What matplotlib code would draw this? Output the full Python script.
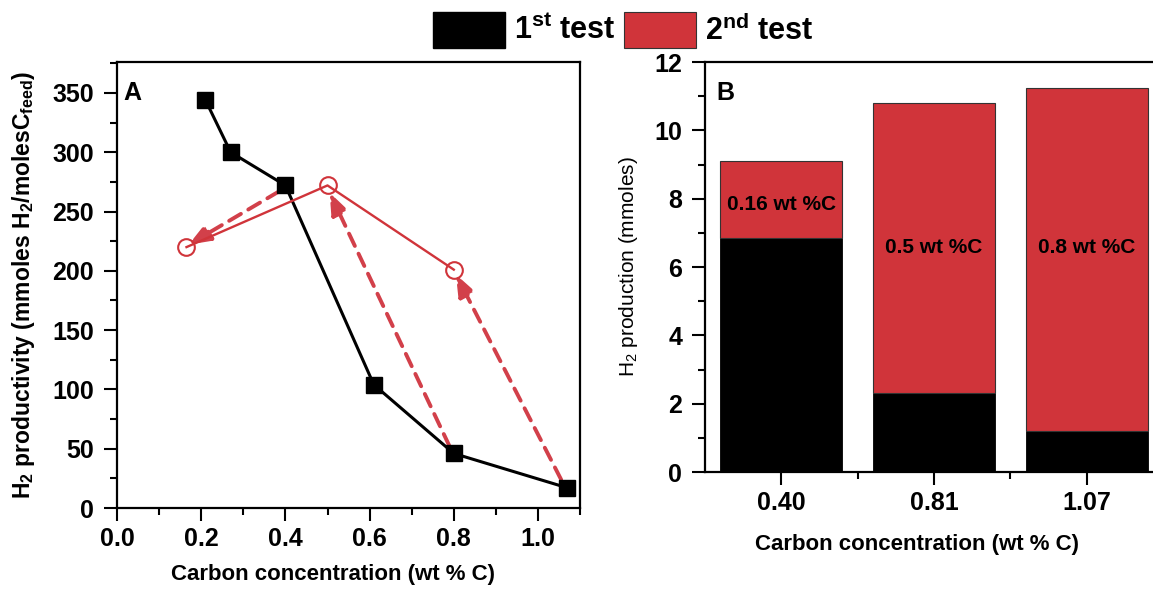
import matplotlib
matplotlib.use("Agg")
import matplotlib.pyplot as plt
from matplotlib.patches import Rectangle
from matplotlib.ticker import MultipleLocator, FixedLocator

plt.rcParams["font.family"] = ["Liberation Sans", "DejaVu Sans"]
plt.rcParams["mathtext.fontset"] = "custom"
plt.rcParams["mathtext.rm"] = "Liberation Sans"
plt.rcParams["mathtext.bf"] = "Liberation Sans:bold"
plt.rcParams["mathtext.it"] = "Liberation Sans:italic"
plt.rcParams["mathtext.default"] = "regular"

RED = "#D0343A"
ARROW_RED = "#D2404A"

# panel A: H2 productivity vs carbon concentration
first_x = [0.21, 0.27, 0.40, 0.61, 0.80, 1.07]
first_y = [344, 300, 272, 104, 46, 17]
second_x = [0.165, 0.50, 0.80]
second_y = [220, 272, 201]
# dashed arrows: from 1st-test point to 2nd-test point
arrow_from = [(0.385, 267), (0.79, 52), (1.055, 24)]
arrow_to = [(0.17, 222), (0.505, 266), (0.805, 197)]

# panel B: stacked H2 production
bar_labels = ["0.40", "0.81", "1.07"]
first_prod = [6.85, 2.30, 1.20]
second_prod = [2.25, 8.50, 10.05]
bar_notes = ["0.16 wt %C", "0.5 wt %C", "0.8 wt %C"]
note_y = [7.82, 6.58, 6.58]

fig = plt.figure(figsize=(11.53, 5.93), dpi=100)

# ---- panel A
axA = fig.add_axes([0.1015, 0.1433, 0.4016, 0.752])
axA.plot(first_x, first_y, color="black", lw=2.2, marker="s", ms=12, zorder=3)
axA.plot(second_x, second_y, color=RED, lw=1.7, marker="o", ms=12,
         mfc="none", mec=RED, mew=1.5, zorder=3)
for (x0, y0), (x1, y1) in zip(arrow_from, arrow_to):
    axA.annotate("", xy=(x1, y1), xytext=(x0, y0),
                 arrowprops=dict(arrowstyle="-|>,head_length=1.3,head_width=0.5",
                                 color=ARROW_RED, lw=2.8, ls=(0, (3.5, 2.2)),
                                 shrinkA=0, shrinkB=0), zorder=2)
axA.set_xlim(0, 1.1)
axA.set_ylim(0, 376)
axA.xaxis.set_major_locator(MultipleLocator(0.2))
axA.xaxis.set_minor_locator(MultipleLocator(0.1))
axA.yaxis.set_major_locator(MultipleLocator(50))
axA.yaxis.set_minor_locator(MultipleLocator(25))
axA.xaxis.set_major_formatter(plt.FuncFormatter(lambda v, p: f"{v:.1f}"))
axA.text(0.013, 0.93, "A", transform=axA.transAxes, fontsize=18, fontweight="bold",
         ha="left", va="center")
axA.set_xlabel("Carbon concentration (wt % C)", fontsize=16, fontweight="bold")
axA.xaxis.set_label_coords(0.466, -0.125)
axA.set_ylabel(r"$\mathbf{H_2}$ productivity (mmoles $\mathbf{H_2}$/molesC$_{\mathbf{feed}}$)",
               fontsize=16.5, fontweight="bold")
axA.yaxis.set_label_coords(-0.172, 0.5)

# ---- panel B
axB = fig.add_axes([0.6114, 0.204, 0.3972, 0.6914])
pos = list(range(len(bar_labels)))
axB.bar(pos, first_prod, width=0.8, color="black", edgecolor="black", lw=0.6)
axB.bar(pos, second_prod, width=0.8, bottom=first_prod, color=RED,
        edgecolor="#333333", lw=0.8)
for p, note, ny in zip(pos, bar_notes, note_y):
    axB.text(p, ny, note, ha="center", va="center", fontsize=15, fontweight="bold")
axB.set_xlim(-0.5, 2.5)
axB.set_ylim(0, 12)
axB.xaxis.set_major_locator(FixedLocator(pos))
axB.xaxis.set_minor_locator(FixedLocator([0.5, 1.5]))
axB.set_xticklabels(bar_labels)
axB.yaxis.set_major_locator(MultipleLocator(2))
axB.yaxis.set_minor_locator(MultipleLocator(1))
axB.text(0.025, 0.925, "B", transform=axB.transAxes, fontsize=18, fontweight="bold",
         ha="left", va="center")
axB.set_xlabel("Carbon concentration (wt % C)", fontsize=16, fontweight="bold")
axB.xaxis.set_label_coords(0.463, -0.151)
axB.set_ylabel(r"H$_2$ production (mmoles)", fontsize=15)
axB.yaxis.set_label_coords(-0.142, 0.5)

for ax in (axA, axB):
    for s in ax.spines.values():
        s.set_linewidth(1.6)
    ax.tick_params(which="both", direction="out", width=1.5, labelsize=18, top=False, right=False)
    ax.tick_params(which="major", length=9.5, pad=7)
    ax.tick_params(which="minor", length=5)
    ax.tick_params(axis="x", pad=4)
    for lab in ax.get_xticklabels() + ax.get_yticklabels():
        lab.set_fontweight("bold")

# ---- shared legend at top
W, H = 1153, 593
fig.patches.append(Rectangle((433 / W, 1 - 48 / H), 72 / W, 36 / H, transform=fig.transFigure,
                             facecolor="black", edgecolor="black"))
fig.patches.append(Rectangle((624 / W, 1 - 48 / H), 72 / W, 36 / H, transform=fig.transFigure,
                             facecolor=RED, edgecolor="#333333", lw=0.8))
fig.text(514 / W, 1 - 31 / H, r"$\mathbf{1^{st}}$ test", fontsize=22, fontweight="bold",
         ha="left", va="center")
fig.text(705 / W, 1 - 31 / H, r"$\mathbf{2^{nd}}$ test", fontsize=22, fontweight="bold",
         ha="left", va="center")

fig.savefig("out.png", dpi=100, facecolor="white")
